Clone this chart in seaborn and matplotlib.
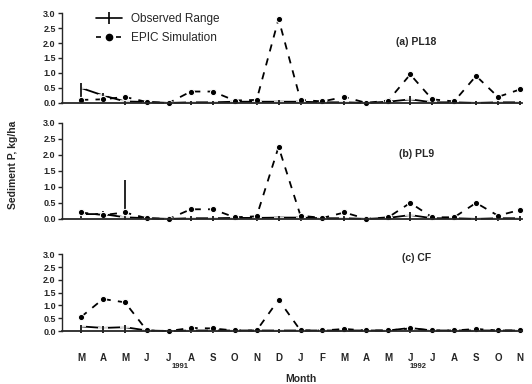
import numpy as np
import pandas as pd
import seaborn as sns
import matplotlib.pyplot as plt
from matplotlib.lines import Line2D

months = ["M", "A", "M", "J", "J", "A", "S", "O", "N", "D", "J",
          "F", "M", "A", "M", "J", "J", "A", "S", "O", "N"]
panels = ["(a) PL18", "(b) PL9", "(c) CF"]

sim_pl18 = [0.10, 0.12, 0.20, 0.03, 0.00, 0.38, 0.38, 0.08, 0.10, 2.80, 0.10,
            0.05, 0.20, 0.00, 0.08, 0.95, 0.12, 0.05, 0.90, 0.20, 0.45]
sim_pl9 = [0.20, 0.12, 0.20, 0.02, 0.00, 0.30, 0.30, 0.05, 0.08, 2.25, 0.10,
           0.03, 0.20, 0.00, 0.05, 0.50, 0.05, 0.05, 0.50, 0.10, 0.28]
sim_cf = [0.55, 1.25, 1.12, 0.02, 0.00, 0.12, 0.10, 0.02, 0.02, 1.22, 0.02,
          0.02, 0.08, 0.02, 0.02, 0.10, 0.02, 0.02, 0.08, 0.02, 0.02]

obs_pl18 = [0.50, 0.25, 0.05, 0.03, 0.00, 0.02, 0.02, 0.04, 0.04, 0.04, 0.04,
            0.02, 0.02, 0.00, 0.04, 0.12, 0.02, 0.02, 0.00, 0.02, 0.02]
lo_pl18 = [0.10, 0.05, -0.08, -0.08, -0.08, -0.08, -0.08, -0.08, -0.08, -0.08, -0.08,
           -0.08, -0.08, -0.08, -0.08, -0.08, -0.08, -0.08, -0.08, -0.08, -0.08]
hi_pl18 = [0.65, 0.32, 0.12, 0.10, 0.08, 0.08, 0.08, 0.10, 0.10, 0.10, 0.10,
           0.08, 0.08, 0.08, 0.10, 0.22, 0.08, 0.08, 0.08, 0.08, 0.08]

obs_pl9 = [0.15, 0.15, 0.05, 0.02, 0.00, 0.02, 0.02, 0.03, 0.03, 0.04, 0.04,
           0.02, 0.02, 0.00, 0.03, 0.12, 0.02, 0.02, 0.00, 0.02, 0.02]
lo_pl9 = [0.02, 0.02, -0.05, -0.08, -0.08, -0.08, -0.08, -0.08, -0.08, -0.08, -0.08,
          -0.08, -0.08, -0.08, -0.08, -0.08, -0.08, -0.08, -0.08, -0.08, -0.08]
hi_pl9 = [0.28, 0.25, 1.20, 0.08, 0.08, 0.08, 0.08, 0.08, 0.08, 0.10, 0.10,
          0.08, 0.08, 0.08, 0.08, 0.20, 0.08, 0.08, 0.08, 0.08, 0.08]

obs_cf = [0.18, 0.12, 0.15, 0.02, 0.00, 0.02, 0.02, 0.02, 0.02, 0.02, 0.02,
          0.02, 0.02, 0.02, 0.02, 0.12, 0.02, 0.02, 0.02, 0.02, 0.02]
lo_cf = [-0.08] * 21
hi_cf = [0.25, 0.20, 0.22, 0.08, 0.08, 0.08, 0.08, 0.08, 0.08, 0.08, 0.08,
         0.08, 0.08, 0.08, 0.08, 0.22, 0.08, 0.08, 0.08, 0.08, 0.08]

sims = [sim_pl18, sim_pl9, sim_cf]
obss = [obs_pl18, obs_pl9, obs_cf]
los = [lo_pl18, lo_pl9, lo_cf]
his = [hi_pl18, hi_pl9, hi_cf]

sns.set_style("ticks")
plt.rcParams['font.family'] = ['Liberation Sans', 'DejaVu Sans']

fig = plt.figure(figsize=(5.32, 3.84), dpi=100)
boxes = [[0.1165, 0.732, 0.865, 0.234],
         [0.1165, 0.430, 0.865, 0.250],
         [0.1165, 0.138, 0.865, 0.200]]

x = np.arange(len(months))
for i in range(3):
    ax = fig.add_axes(boxes[i])
    df = pd.DataFrame({"m": x, "sim": sims[i], "obs": obss[i]})
    sns.lineplot(data=df, x="m", y="obs", ax=ax, color="black", lw=1.3,
                 marker="+", markersize=7, mew=1.2, clip_on=False)
    ax.vlines(x, los[i], his[i], color="black", lw=1.2, clip_on=False)
    sns.lineplot(data=df, x="m", y="sim", ax=ax, color="black", lw=1.3,
                 linestyle=(0, (4, 4)), marker="o", markersize=4.5,
                 clip_on=False)
    ax.set_xlim(-0.87, 20.1)
    ax.set_ylim(0, 3.0)
    ax.set_yticks(np.arange(0, 3.01, 0.5))
    ax.set_yticklabels([f"{v:.1f}" for v in np.arange(0, 3.01, 0.5)],
                       fontsize=6.5, fontweight="bold")
    ax.tick_params(axis="y", length=3, width=1, pad=1.5)
    ax.tick_params(axis="x", length=0)
    sns.despine(ax=ax)
    ax.spines["left"].set_linewidth(1.0)
    ax.spines["bottom"].set_linewidth(1.3)
    ax.set_xlabel("")
    ax.set_ylabel("")
    ax.text(0.77, 0.68 if i < 2 else 0.95, panels[i], transform=ax.transAxes,
            fontsize=7.5, fontweight="bold", ha="center", va="center")
    if i == 0:
        handles = [
            Line2D([], [], color="black", lw=1.2, marker="|", markersize=9,
                   mew=1.2),
            Line2D([], [], color="black", lw=1.2, linestyle=(0, (3, 3)),
                   marker="o", markersize=4.5),
        ]
        ax.legend(handles, ["Observed Range", "EPIC Simulation"],
                  loc="upper left", bbox_to_anchor=(0.05, 1.12), frameon=False,
                  fontsize=8.5, handlelength=2.2, labelspacing=0.6)
    if i < 2:
        ax.set_xticks([])
    else:
        ax.set_xticks(x)
        ax.set_xticklabels(months, fontsize=7, fontweight="bold")
        ax.tick_params(axis="x", pad=16)

fig.text(0.338, 0.042, "1991", fontsize=5.5, fontweight="bold", ha="center")
fig.text(0.786, 0.042, "1992", fontsize=5.5, fontweight="bold", ha="center")
fig.text(0.565, 0.005, "Month", fontsize=7.5, fontweight="bold", ha="center")
fig.text(0.025, 0.57, "Sediment P, kg/ha", fontsize=7.5, fontweight="bold",
         rotation=90, ha="center", va="center")

fig.savefig("out.png", dpi=100)
